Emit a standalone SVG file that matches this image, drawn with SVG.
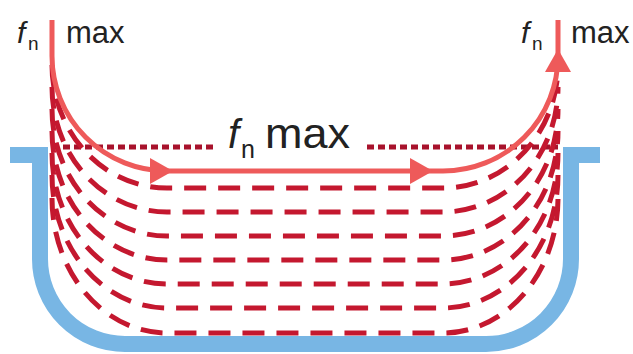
<svg xmlns="http://www.w3.org/2000/svg" width="633" height="354" viewBox="0 0 633 354">
<style>
.txt{font-family:"Liberation Sans",Arial,sans-serif;fill:#222}
.it{font-style:italic}
.basin{fill:none;stroke:#78b6e4;stroke-width:16;stroke-linejoin:miter}
.dash{fill:none;stroke:#c4182f;stroke-width:5;stroke-dasharray:22 12}
.dot{fill:none;stroke:#a8132c;stroke-width:5;stroke-dasharray:7 4}
.flow{fill:none;stroke:#ee5a5a;stroke-width:5}
.head{fill:#ee5a5a}
</style>
<g id="basin">
<path class="basin" d="M10 155 H40 V259 A85 85 0 0 0 125 344 H486 A85 85 0 0 0 571 259 V155 H600"/>
</g>
<g id="connectors">
<path class="dot" d="M52 147 H215 M367 147 H558"/>
<path class="dash" d="M52 65 A115 123 0 0 0 167 188 H443 A115 123 0 0 0 558 65"/>
<path class="dash" d="M52 87 A115 125 0 0 0 167 212 H443 A115 125 0 0 0 558 87"/>
<path class="dash" d="M52 109 A115 127 0 0 0 167 236 H443 A115 127 0 0 0 558 109"/>
<path class="dash" d="M52 131 A115 129 0 0 0 167 260 H443 A115 129 0 0 0 558 131"/>
<path class="dash" d="M52 153 A115 131 0 0 0 167 284 H443 A115 131 0 0 0 558 153"/>
<path class="dash" d="M52 175 A115 133 0 0 0 167 308 H443 A115 133 0 0 0 558 175"/>
<path class="dash" d="M52 198 A115 135 0 0 0 167 333 H443 A115 135 0 0 0 558 198"/>
<path class="flow" d="M52 20 V56 A115 115 0 0 0 167 171 H443 A115 115 0 0 0 558 56 V20"/>
<polygon class="head" points="173,171 150,158 150,184"/>
<polygon class="head" points="433,171 410,158 410,184"/>
<polygon class="head" points="558,49 545,72 571,72"/>
</g>
<g id="label-left">
<text class="txt it" x="17" y="43" font-size="30">f</text>
<text class="txt" x="28" y="50" font-size="19">n</text>
<text class="txt" x="66" y="43" font-size="31">max</text>
</g>
<g id="label-right">
<text class="txt it" x="521" y="43" font-size="30">f</text>
<text class="txt" x="532" y="50" font-size="19">n</text>
<text class="txt" x="571" y="43" font-size="31">max</text>
</g>
<g id="label-middle">
<text class="txt it" x="228" y="148" font-size="40">f</text>
<text class="txt" x="241" y="158" font-size="25">n</text>
<text class="txt" x="265" y="148" font-size="42" textLength="85" lengthAdjust="spacingAndGlyphs">max</text>
</g>
</svg>
